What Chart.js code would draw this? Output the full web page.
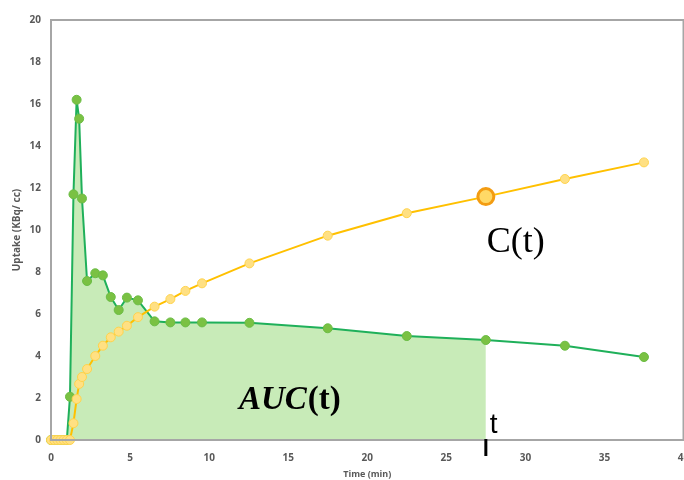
<!DOCTYPE html>
<html>
<head>
<meta charset="utf-8">
<script src="https://cdn.jsdelivr.net/npm/chart.js@4/dist/chart.umd.min.js"></script>
<style>
  html, body { margin: 0; padding: 0; background: #fff; overflow: hidden; }
  #wrap { width: 689px; height: 480px; }
</style>
</head>
<body>
<div id="wrap"><canvas id="myChart"></canvas></div>
<script>
// tiempos de los frames (min)
const times = [0, 0.2, 0.4, 0.6, 0.8, 1.0, 1.2, 1.42, 1.62, 1.78, 1.96, 2.28, 2.8, 3.28, 3.78, 4.28, 4.8, 5.5, 6.55, 7.55, 8.5, 9.55, 12.55, 17.5, 22.5, 27.5, 32.5, 37.5];
// curva de captacion (verde)
const uptake = [0, 0, 0, 0, 0, 0, 2.06, 11.7, 16.2, 15.3, 11.5, 7.57, 7.94, 7.84, 6.81, 6.19, 6.78, 6.65, 5.65, 5.6, 5.6, 5.6, 5.58, 5.32, 4.95, 4.76, 4.49, 3.95];
// C(t) (amarillo)
const cumulative = [0, 0, 0, 0, 0, 0, 0, 0.8, 1.95, 2.67, 3.0, 3.38, 4.0, 4.49, 4.89, 5.16, 5.44, 5.85, 6.35, 6.71, 7.1, 7.46, 8.41, 9.73, 10.8, 11.59, 12.43, 13.22];
const xTicks = [0, 5, 10, 15, 20, 25, 30, 35, 40];
const yTicks = [0, 2, 4, 6, 8, 10, 12, 14, 16, 18, 20];
const highlightTime = 27.5;

const toPoints = (vals) => times.map((t, i) => ({ x: t, y: vals[i] }));
const aucPoints = toPoints(uptake).filter(p => p.x <= highlightTime);

const AXIS_GRAY = '#a6a6a6';
const LABEL_COLOR = '#595959';

// marco gris y anotaciones
const frameAndNotes = {
    id: 'frameAndNotes',
    afterDatasetsDraw(chart) {
        const { ctx, chartArea: a, scales } = chart;
        const xs = scales.x;
        ctx.save();
        ctx.strokeStyle = AXIS_GRAY;
        ctx.lineWidth = 2;
        ctx.strokeRect(a.left, a.top, a.right - a.left, a.bottom - a.top);

        const xt = xs.getPixelForValue(highlightTime);
        ctx.strokeStyle = '#000';
        ctx.lineWidth = 3;
        ctx.beginPath();
        ctx.moveTo(xt, a.bottom - 1);
        ctx.lineTo(xt, a.bottom + 16);
        ctx.stroke();

        ctx.fillStyle = '#000';
        ctx.textBaseline = 'alphabetic';
        ctx.textAlign = 'left';
        ctx.font = '28px "Liberation Sans"';
        ctx.fillText('t', xt + 4, a.bottom - 7);

        ctx.font = '36px "Liberation Serif"';
        ctx.fillText('C(t)', xt + 1, 252);

        ctx.font = 'italic bold 33px "Liberation Serif"';
        const x0 = 239;
        ctx.fillText('AUC', x0, 409);
        const w = ctx.measureText('AUC').width;
        ctx.font = 'bold 33px "Liberation Serif"';
        ctx.fillText('(t)', x0 + w + 1, 409);
        ctx.restore();
    }
};

new Chart(document.getElementById('myChart'), {
    type: 'line',
    data: {
        datasets: [{
            label: 'C(t)',
            data: toPoints(cumulative),
            borderColor: '#ffc000',
            borderWidth: 2,
            backgroundColor: '#ffe083',
            pointBackgroundColor: (c) => times[c.dataIndex] === highlightTime ? '#ffd966' : '#ffe083',
            pointBorderColor: (c) => times[c.dataIndex] === highlightTime ? '#f39c12' : '#ffd34d',
            pointBorderWidth: (c) => times[c.dataIndex] === highlightTime ? 3 : 1,
            pointRadius: (c) => times[c.dataIndex] === highlightTime ? 8 : 4.5,
            fill: false,
            clip: false,
            order: 1
        }, {
            label: 'Uptake',
            data: toPoints(uptake),
            borderColor: '#1fb05a',
            borderWidth: 2,
            backgroundColor: '#7ac143',
            pointBackgroundColor: '#7ac143',
            pointBorderColor: '#6bbd45',
            pointBorderWidth: 1,
            pointRadius: 4.5,
            fill: false,
            clip: false,
            order: 2
        }, {
            label: 'AUC(t)',
            data: aucPoints,
            borderWidth: 0,
            borderColor: 'rgba(0,0,0,0)',
            backgroundColor: '#c8ebb8',
            pointRadius: 0,
            fill: 'origin',
            order: 3
        }]
    },
    options: {
        responsive: true,
        maintainAspectRatio: false,
        animation: false,
        layout: { padding: { top: 20, right: 0, left: 0, bottom: 0 } },
        plugins: {
            legend: { display: false },
            tooltip: { enabled: false }
        },
        scales: {
            x: {
                type: 'linear',
                min: 0,
                max: 40,
                afterBuildTicks: (s) => { s.ticks = xTicks.map(v => ({ value: v })); },
                afterFit: (s) => { s.height = 40; s.paddingLeft = 0; s.paddingRight = 0; },
                grid: { display: false, drawTicks: false },
                border: { display: false },
                ticks: {
                    padding: 12,
                    maxRotation: 0,
                    color: LABEL_COLOR,
                    font: { family: 'Open Sans', size: 10, weight: 'bold' }
                },
                title: {
                    display: true,
                    text: 'Time (min)',
                    color: LABEL_COLOR,
                    padding: { top: 0, bottom: 0 },
                    font: { family: 'Open Sans', size: 9, weight: 'bold' }
                }
            },
            y: {
                min: 0,
                max: 20,
                afterBuildTicks: (s) => { s.ticks = yTicks.map(v => ({ value: v })); },
                afterFit: (s) => { s.width = 51; s.paddingTop = 0; s.paddingBottom = 0; },
                grid: { display: false, drawTicks: false },
                border: { display: false },
                ticks: {
                    padding: 10,
                    color: LABEL_COLOR,
                    font: { family: 'Open Sans', size: 10, weight: 'bold' }
                },
                title: {
                    display: true,
                    text: 'Uptake (KBq/ cc)',
                    color: LABEL_COLOR,
                    padding: { top: 11, bottom: 0 },
                    font: { family: 'Open Sans', size: 10, weight: 'bold' }
                }
            }
        }
    },
    plugins: [frameAndNotes]
});
</script>
</body>
</html>
